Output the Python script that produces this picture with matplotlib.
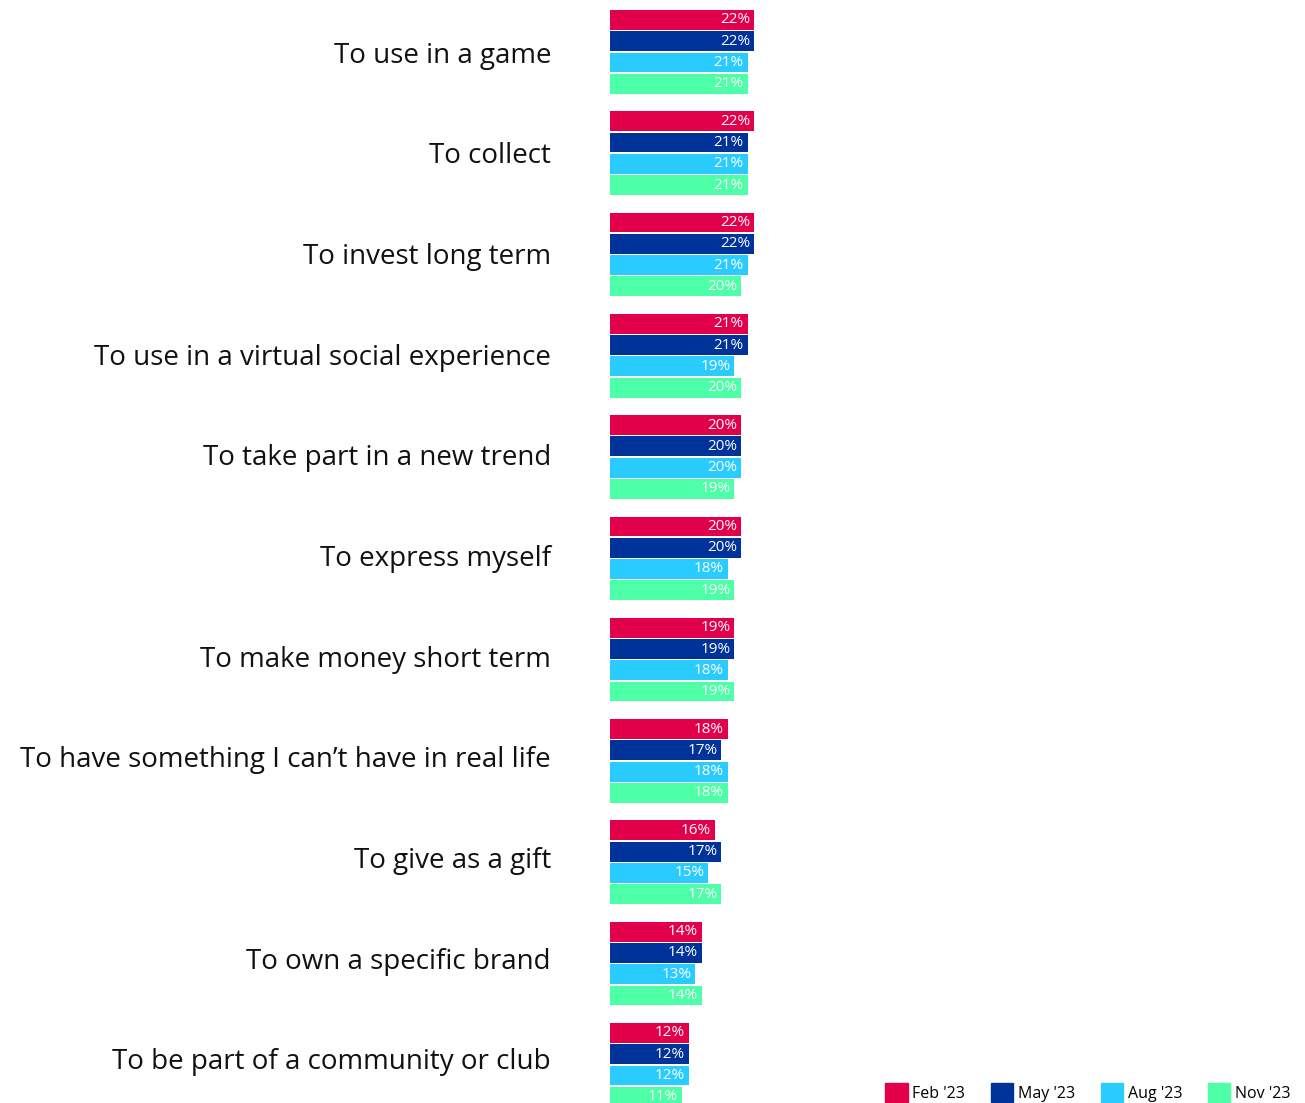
import numpy as np
import matplotlib.pyplot as plt
from matplotlib.patches import Patch

### data
reasons = ['To use in a game', 'To collect', 'To invest long term',
           'To use in a virtual social experience', 'To take part in a new trend',
           'To express myself', 'To make money short term',
           'To have something I can\u2019t have in real life', 'To give as a gift',
           'To own a specific brand', 'To be part of a community or club']
waves = ["Feb '23", "May '23", "Aug '23", "Nov '23"]
feb_23 = [22, 22, 22, 21, 20, 20, 19, 18, 16, 14, 12]
may_23 = [22, 21, 22, 21, 20, 20, 19, 17, 17, 14, 12]
aug_23 = [21, 21, 21, 19, 20, 18, 18, 18, 15, 13, 12]
nov_23 = [21, 21, 20, 20, 19, 19, 19, 18, 17, 14, 11]

colors = ['#E3004B', '#003399', '#2ACCFF', '#4DFFA6']
series = [feb_23, may_23, aug_23, nov_23]

plt.rcParams['font.family'] = ['Open Sans', 'DejaVu Sans']

W, H = 1305, 1103
fig = plt.figure(figsize=(W / 100, H / 100), dpi=100)
ax = fig.add_axes([610 / W, 0, 690 / W, 1])

y = np.arange(len(reasons))
pitch = 0.21
bar_h = 0.196
for k, (vals, c) in enumerate(zip(series, colors)):
    pos = y + (k - 1.5) * pitch
    ax.barh(pos, vals, height=bar_h, color=c, label=waves[k])
    for p, v in zip(pos, vals):
        ax.text(v - 0.6, p, f'{v}%', ha='right', va='center',
                color='white', fontsize=11)

gp = 101.3  # px per group
top = -0.413 - 10 / gp
ax.set_xlim(0, 690 / 6.55)
ax.set_ylim(top + H / gp, top)
ax.axis('off')

for i, r in enumerate(reasons):
    fig.text(551 / W, 1 - (52 + 100.7 * i) / H, r, ha='right', va='center_baseline',
             fontsize=20, color='#111111')

handles = [Patch(color=c) for c in colors]
fig.legend(handles, waves, loc='lower right', bbox_to_anchor=(1.0, -0.012),
           ncol=4, frameon=False, fontsize=11.5, handlelength=1.4,
           handleheight=1.4, handletextpad=0.3, columnspacing=1.6)

plt.savefig('out.png', dpi=100)
